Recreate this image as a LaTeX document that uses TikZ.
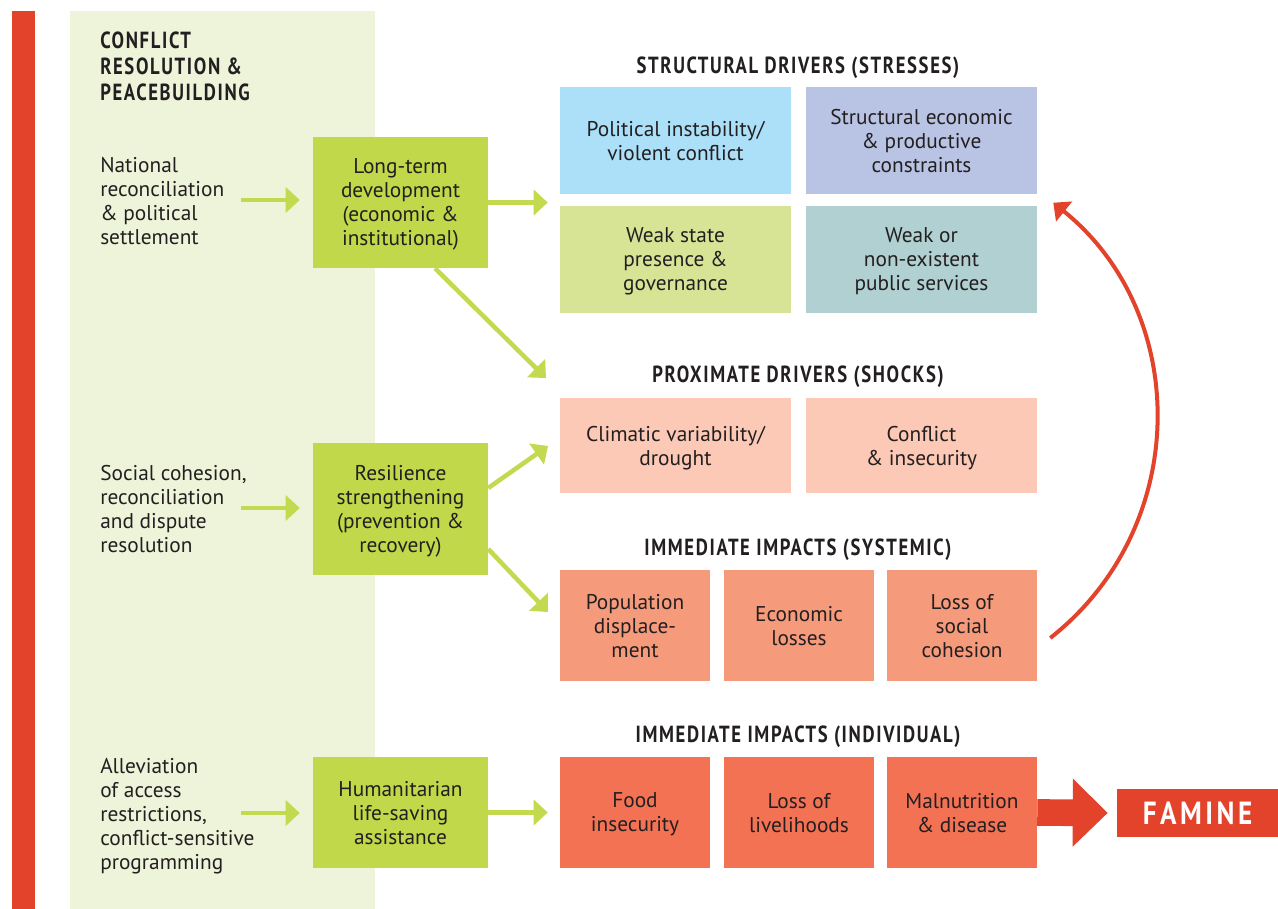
\documentclass[tikz,border=0pt]{standalone}
\usepackage{fontspec}
\setmainfont{PT Sans}
\newfontfamily\headfont[FakeStretch=0.8,LetterSpace=7]{PT Sans}
\newfontfamily\faminefont[FakeStretch=0.85,LetterSpace=11]{PT Sans}
\usetikzlibrary{arrows.meta,calc}

\definecolor{ink}{HTML}{231F20}
\definecolor{redbar}{HTML}{E2432A}
\definecolor{panel}{HTML}{EDF4D9}
\definecolor{lime}{HTML}{C0D849}
\definecolor{limearrow}{HTML}{C3DA50}
\definecolor{skyblue}{HTML}{ABE0F8}
\definecolor{lavender}{HTML}{B9C3E3}
\definecolor{palegreen}{HTML}{D7E496}
\definecolor{paleteal}{HTML}{B0D0D1}
\definecolor{peach}{HTML}{FBC9B5}
\definecolor{salmon}{HTML}{F59A7B}
\definecolor{coral}{HTML}{F37254}

\begin{document}
\begin{tikzpicture}[x=0.75pt,y=-0.75pt,
  every node/.style={inner sep=0pt, text=ink},
  bodytext/.style={font=\fontsize{16pt}{18pt}\selectfont},
  heading/.style={font=\headfont\bfseries\fontsize{17.5pt}{19.5pt}\selectfont},
  cell/.style={rectangle, align=center, bodytext, text depth=0pt},
  wd/.style={minimum width=#1*0.75pt},
  ht/.style={minimum height=#1*0.75pt},
  action/.style={cell, fill=lime, wd=175},
  driver/.style={cell, wd=231},
  impact/.style={cell, wd=150, ht=111},
  lefttext/.style={anchor=north west, align=left, bodytext},
  garrow/.style={draw=limearrow, line width=3.4pt,
    -{Triangle[length=10.5pt,width=18.75pt]}},
]
\useasboundingbox (0,0) rectangle (1278,909);
\fill[white] (0,0) rectangle (1278,909);

% side bar and peacebuilding column
\fill[redbar] (12,11) rectangle (35,909);
\fill[panel] (70,11) rectangle (375,909);

\node[heading, anchor=north west, align=left] (cr) at (100,32)
  {CONFLICT\\RESOLUTION \&\\PEACEBUILDING};

% peacebuilding entry points
\node[lefttext] (nat) at (100,157)
  {National\\reconciliation\\\& political\\settlement};
\node[lefttext] (soc) at (100,465)
  {Social cohesion,\\reconciliation\\and dispute\\resolution};
\node[lefttext] (alv) at (100,758)
  {Alleviation\\of access\\restrictions,\\conflict-sensitive\\programming};

% response types
\node[action, ht=131] (lt) at (400.5,202.5)
  {Long-term\\development\\(economic \&\\institutional)};
\node[action, ht=132] (rs) at (400.5,509)
  {Resilience\\strengthening\\(prevention \&\\recovery)};
\node[action, ht=111] (hum) at (400.5,812.5)
  {Humanitarian\\life-saving\\assistance};

% structural drivers
\node[heading] (hs) at (798,68) {STRUCTURAL DRIVERS (STRESSES)};
\node[driver, ht=107, fill=skyblue] (pol) at (675.5,140.5)
  {Political instability/\\violent conflict};
\node[driver, ht=107, fill=lavender] (sec) at (921.5,140.5)
  {Structural economic\\\& productive\\constraints};
\node[driver, ht=107, fill=palegreen] (wsp) at (675.5,259.5)
  {Weak state\\presence \&\\governance};
\node[driver, ht=107, fill=paleteal] (wps) at (921.5,259.5)
  {Weak or\\non-existent\\public services};

% proximate drivers
\node[heading] (hp) at (798,377) {PROXIMATE DRIVERS (SHOCKS)};
\node[driver, ht=95, fill=peach] (clim) at (675.5,445.5)
  {Climatic variability/\\drought};
\node[driver, ht=95, fill=peach] (conf) at (921.5,445.5)
  {Conflict\\\& insecurity};

% systemic impacts
\node[heading] (hsy) at (798,550) {IMMEDIATE IMPACTS (SYSTEMIC)};
\node[impact, fill=salmon] (pop) at (635,625.5)
  {Population\\displace-\\ment};
\node[impact, fill=salmon] (eco) at (799,625.5)
  {Economic\\losses};
\node[impact, fill=salmon] (loss) at (962,625.5)
  {Loss of\\social\\cohesion};

% individual impacts
\node[heading] (hin) at (798,737) {IMMEDIATE IMPACTS (INDIVIDUAL)};
\node[impact, fill=coral] (food) at (635,812.5)
  {Food\\insecurity};
\node[impact, fill=coral] (liv) at (799,812.5)
  {Loss of\\livelihoods};
\node[impact, fill=coral] (mal) at (962,812.5)
  {Malnutrition\\\& disease};

\node[rectangle, fill=redbar, wd=161, ht=48,
  font=\faminefont\bfseries\fontsize{24pt}{26pt}\selectfont, text=white]
  (fam) at (1197.5,813) {FAMINE};

% arrow end points
\coordinate (ptip) at (546,378);
\coordinate (ctip) at (548,446);
\coordinate (dtip) at (548,612);

% green response arrows
\draw[garrow, shorten >=13*0.75pt] (241,200) -- (lt.west |- 241,200);
\draw[garrow, shorten >=13*0.75pt] (241,508) -- (rs.west |- 241,508);
\draw[garrow, shorten >=13*0.75pt] (241,813) -- (hum.west |- 241,813);
\draw[garrow, shorten >=12*0.75pt] (lt.east) -- (lt.east -| pol.west);
\draw[garrow] ($(lt.south)+(34.5,0)$) -- (ptip);
\draw[garrow] ($(rs.east)+(0,-21)$) -- (ctip);
\draw[garrow] ($(rs.east)+(0,40)$) -- (dtip);
\draw[garrow, shorten >=12*0.75pt] (hum.east) -- (hum.east -| food.west);

% feedback from social cohesion to structural drivers
\draw[redbar, line width=3pt, -{Triangle[length=10.5pt,width=18.75pt]}]
  ($(loss.east)+(13,12.5)$) .. controls (1190.6,527.8) and (1191.7,314.4)
  .. ($(wps.north east)+(16,-3)$);

% escalation to famine
\draw[redbar, line width=20pt, shorten >=9*0.75pt,
  -{Triangle[length=26.25pt,width=49.5pt]}] (mal.east) -- (fam.west);
\end{tikzpicture}
\end{document}
